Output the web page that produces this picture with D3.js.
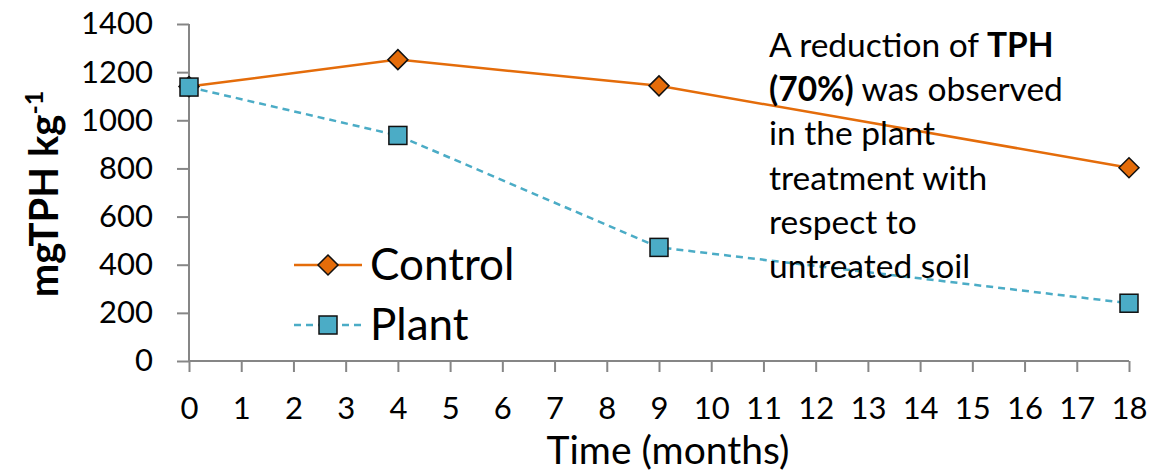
<!DOCTYPE html>
<html>
<head>
<meta charset="utf-8">
<script src="https://cdn.jsdelivr.net/npm/d3@7/dist/d3.min.js"></script>
<style>
  body { margin: 0; background: #fff; }
  svg { font-family: Lato, "Open Sans", sans-serif; }
</style>
</head>
<body>
<div id="chart"></div>
<script>
  // Data
  const months = [0, 4, 9, 18];
  const controlVals = [1140, 1252, 1143, 803];
  const plantVals = [1138, 937, 472, 240];
  const xTicks = d3.range(0, 19);
  const yTicks = [0, 200, 400, 600, 800, 1000, 1200, 1400];
  const noteLines = [
    [["A reduction of ", false], ["TPH", true]],
    [["(70%)", true], [" was observed", false]],
    [["in the plant", false]],
    [["treatment with", false]],
    [["respect to", false]],
    [["untreated soil", false]]
  ];

  const colors = { control: "#E46C0A", plant: "#4BACC6" };
  const font = "Lato, 'Open Sans', sans-serif";

  const W = 1153, H = 476;
  const margin = {top: 24, right: 24, bottom: 115, left: 189};

  const svg = d3.select("#chart").append("svg")
    .attr("width", W)
    .attr("height", H);

  const x = d3.scaleLinear().domain([0, 18]).range([margin.left, 1129]);
  const y = d3.scaleLinear().domain([0, 1400]).range([361, margin.top]);

  // axes
  const yAxis = svg.append("g")
    .attr("transform", `translate(${margin.left},0)`)
    .call(d3.axisLeft(y).tickValues(yTicks).tickFormat(d3.format("d")).tickSize(12).tickPadding(24));
  const xAxis = svg.append("g")
    .attr("transform", `translate(0,${y(0)})`)
    .call(d3.axisBottom(x).tickValues(xTicks).tickFormat(d3.format("d")).tickSize(11).tickPadding(25));

  [yAxis, xAxis].forEach(g => {
    g.select(".domain").remove();
    g.selectAll("line").attr("stroke", "#868686").attr("stroke-width", 2);
    g.selectAll("text").attr("fill", "#000").style("font-size", "31px")
      .style("font-family", font);
  });
  // plain axis lines
  svg.append("line").attr("x1", x(0)).attr("x2", x(0)).attr("y1", y(1400)).attr("y2", y(0))
    .attr("stroke", "#868686").attr("stroke-width", 2);
  svg.append("line").attr("x1", x(0)).attr("x2", x(18)).attr("y1", y(0)).attr("y2", y(0))
    .attr("stroke", "#868686").attr("stroke-width", 2);

  // axis titles
  svg.append("text")
    .attr("x", 668).attr("y", 464)
    .attr("text-anchor", "middle")
    .style("font-size", "39px")
    .text("Time (months)");

  const yt = svg.append("text")
    .attr("transform", "translate(58,194) rotate(-90)")
    .attr("text-anchor", "middle")
    .style("font-size", "40px")
    .style("font-weight", "bold");
  yt.append("tspan").text("mgTPH kg");
  yt.append("tspan").attr("dy", -15).style("font-size", "25px").text("-1");

  // lines
  const line = d3.line().x(d => x(d[0])).y(d => y(d[1]));
  const controlData = months.map((m, i) => [m, controlVals[i]]);
  const plantData = months.map((m, i) => [m, plantVals[i]]);

  svg.append("path").datum(controlData)
    .attr("d", line).attr("fill", "none")
    .attr("stroke", colors.control).attr("stroke-width", 2.5);
  svg.append("path").datum(plantData)
    .attr("d", line).attr("fill", "none")
    .attr("stroke", colors.plant).attr("stroke-width", 2.5)
    .attr("stroke-dasharray", "7,5");

  const diamond = s => `M0,${-s}L${s},0L0,${s}L${-s},0Z`;

  function drawDiamond(cx, cy) {
    svg.append("path").attr("d", diamond(10))
      .attr("transform", `translate(${cx},${cy})`)
      .attr("fill", colors.control).attr("stroke", "#111").attr("stroke-width", 1.5);
  }
  function drawSquare(cx, cy) {
    svg.append("rect").attr("x", cx - 9).attr("y", cy - 9)
      .attr("width", 18).attr("height", 18)
      .attr("fill", colors.plant).attr("stroke", "#111").attr("stroke-width", 1.5);
  }

  controlData.forEach(d => drawDiamond(x(d[0]), y(d[1])));
  plantData.forEach(d => drawSquare(x(d[0]), y(d[1])));

  // legend
  const legend = [
    {name: "Control", y: 265, color: colors.control, dash: null, mark: drawDiamond},
    {name: "Plant", y: 325, color: colors.plant, dash: "7,5", mark: drawSquare}
  ];
  legend.forEach(l => {
    svg.append("line").attr("x1", 294).attr("x2", 362).attr("y1", l.y).attr("y2", l.y)
      .attr("stroke", l.color).attr("stroke-width", 2.5)
      .attr("stroke-dasharray", l.dash);
    l.mark(328, l.y);
    svg.append("text").attr("x", 370).attr("y", l.y + 15)
      .style("font-size", "44px").text(l.name);
  });

  // annotation
  noteLines.forEach((parts, i) => {
    const t = svg.append("text").attr("x", 769).attr("y", 57 + i * 44.2)
      .style("font-size", "33.5px");
    parts.forEach(p => {
      t.append("tspan").style("font-weight", p[1] ? "bold" : "normal").text(p[0]);
    });
  });
</script>
</body>
</html>
